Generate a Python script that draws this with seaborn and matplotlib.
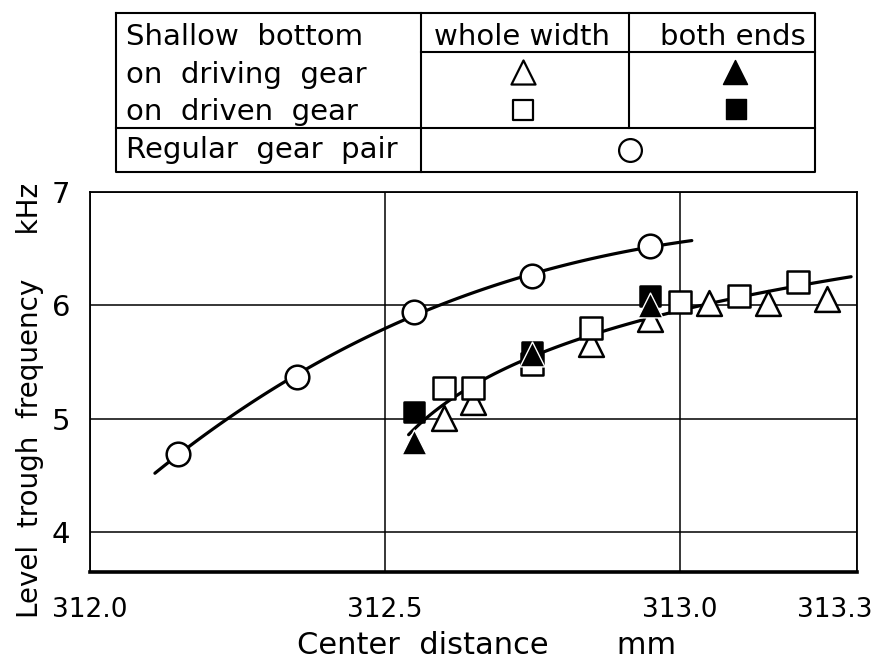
import numpy as np
import pandas as pd
import seaborn as sns
import matplotlib
matplotlib.use("Agg")
import matplotlib.pyplot as plt
from matplotlib import transforms

# Center distance (mm) vs. level trough frequency (kHz)
regular_x = [312.15, 312.35, 312.55, 312.75, 312.95]
regular_y = [4.69, 5.37, 5.94, 6.26, 6.52]

driving_whole_x = [312.60, 312.65, 312.85, 312.95, 313.05, 313.15, 313.25]
driving_whole_y = [5.01, 5.15, 5.66, 5.88, 6.02, 6.02, 6.06]

driving_ends_x = [312.55, 312.75, 312.95]
driving_ends_y = [4.80, 5.57, 6.00]

driven_whole_x = [312.60, 312.65, 312.75, 312.85, 313.00, 313.10, 313.20]
driven_whole_y = [5.27, 5.27, 5.48, 5.80, 6.03, 6.08, 6.21]

driven_ends_x = [312.55, 312.75, 312.95]
driven_ends_y = [5.06, 5.59, 6.08]

x_ticks = [312.0, 312.5, 313.0, 313.3]
x_tick_labels = ["312.0", "312.5", "313.0", "313.3"]
y_ticks = [4, 5, 6, 7]
y_tick_labels = ["4", "5", "6", "7"]

sns.set_theme(style="white")
plt.rcParams["font.family"] = ["DejaVu Sans"]
plt.rcParams.update({
    "axes.edgecolor": "black",
    "text.color": "black",
    "axes.labelcolor": "black",
    "xtick.color": "black",
    "ytick.color": "black",
})

fig = plt.figure(figsize=(8.88, 6.64), dpi=100)
W, H = 888, 664
ax = fig.add_axes([90 / W, (H - 572) / H, 767 / W, 380 / H])

# trend curve for the regular pair: cubic least-squares fit
up_fit = np.polyfit(regular_x, regular_y, 3)
up_x = np.linspace(min(regular_x) - 0.04, max(regular_x) + 0.07, 120)
up = pd.DataFrame({"x": up_x, "y": np.polyval(up_fit, up_x)})

# trend curve for the shallow-bottom pairs: least-squares fit in log(x - x0)
low_x_all = np.array(driving_whole_x + driving_ends_x + driven_whole_x + driven_ends_x)
low_y_all = np.array(driving_whole_y + driving_ends_y + driven_whole_y + driven_ends_y)
x0 = 312.4
low_fit = np.polyfit(np.log(low_x_all - x0), low_y_all, 1)
low_x = np.linspace(low_x_all.min() - 0.01, low_x_all.max() + 0.04, 120)
low = pd.DataFrame({"x": low_x, "y": np.polyval(low_fit, np.log(low_x - x0))})

sns.lineplot(data=up, x="x", y="y", color="black", lw=2.3, ax=ax, zorder=2)
sns.lineplot(data=low, x="x", y="y", color="black", lw=2.3, ax=ax, zorder=2)

mk = dict(edgecolor="black", linewidth=1.8, ax=ax, legend=False)
sns.scatterplot(x=regular_x, y=regular_y, marker="o", s=290, color="white", zorder=4, **mk)
sns.scatterplot(x=driving_whole_x, y=driving_whole_y, marker="^", s=320, color="white", zorder=4, **mk)
sns.scatterplot(x=driven_whole_x, y=driven_whole_y, marker="s", s=230, color="white", zorder=5, **mk)
sns.scatterplot(x=driven_ends_x, y=driven_ends_y, marker="s", s=220, color="black", zorder=6, **mk)
sns.scatterplot(x=driving_ends_x, y=driving_ends_y, marker="^", s=320, color="black",
                edgecolor="white", linewidth=1.0, ax=ax, legend=False, zorder=7)

ax.set_xlim(312.0, 313.3)
ax.set_ylim(3.65, 7.0)
ax.set_xticks(x_ticks)
ax.set_xticklabels(x_tick_labels)
ax.set_yticks(y_ticks)
ax.set_yticklabels(y_tick_labels)
ax.grid(True, color="black", lw=1.1)
ax.set_axisbelow(True)

for side in ["left", "top", "right"]:
    ax.spines[side].set_linewidth(1.3)
    ax.spines[side].set_color("black")
ax.spines["bottom"].set_linewidth(2.6)
ax.spines["bottom"].set_color("black")

ax.tick_params(axis="x", direction="in", length=6, width=1.2, pad=18, labelsize=19)
ax.tick_params(axis="y", direction="out", length=4, width=1.2, pad=10, labelsize=21)
for lab in ax.get_xticklabels():
    if lab.get_text() == "313.3":
        lab.set_transform(lab.get_transform() +
                          transforms.ScaledTranslation(-0.22, 0, fig.dpi_scale_trans))

ax.set_xlabel("Center  distance       mm", fontsize=22, va="center")
ax.xaxis.set_label_coords((487 - 90) / 767, -(646 - 572) / 380)
ax.set_ylabel("Level  trough  frequency     kHz", fontsize=20, va="center")
ax.yaxis.set_label_coords(-(90 - 30) / 767, (572 - 400) / 380)

# symbol key table above the plot (pixel coordinates)
tab = fig.add_axes([0, 0, 1, 1], facecolor="none")
tab.set_xlim(0, W)
tab.set_ylim(H, 0)
tab.axis("off")
L, R, T, B = 116, 815, 13, 172
col1, col2, hdr, reg = 421, 629, 52, 128
lk = dict(color="black", lw=1.5, solid_capstyle="projecting")
tab.plot([L, R, R, L, L], [T, T, B, B, T], **lk)
tab.plot([col1, col1], [T, B], **lk)
tab.plot([col2, col2], [T, reg], **lk)
tab.plot([col1, R], [hdr, hdr], **lk)
tab.plot([L, R], [reg, reg], **lk)

fs = 21
tab.text(126, 45, "Shallow  bottom", fontsize=fs, va="baseline", ha="left")
tab.text(126, 83, "on  driving  gear", fontsize=fs, va="baseline", ha="left")
tab.text(126, 120, "on  driven  gear", fontsize=fs, va="baseline", ha="left")
tab.text(126, 158, "Regular  gear  pair", fontsize=fs, va="baseline", ha="left")
tab.text(522, 45, "whole width", fontsize=fs, va="baseline", ha="center")
tab.text(733, 45, "both ends", fontsize=fs, va="baseline", ha="center")

tab.scatter([523], [72], marker="^", s=300, facecolor="white", edgecolor="black", linewidth=1.6)
tab.scatter([735], [72], marker="^", s=300, facecolor="black", edgecolor="black", linewidth=1.0)
tab.scatter([523], [110], marker="s", s=220, facecolor="white", edgecolor="black", linewidth=1.6)
tab.scatter([736], [109], marker="s", s=220, facecolor="black", edgecolor="black", linewidth=1.0)
tab.scatter([630], [150], marker="o", s=270, facecolor="white", edgecolor="black", linewidth=1.6)

fig.savefig("out.png", dpi=100, facecolor="white")
